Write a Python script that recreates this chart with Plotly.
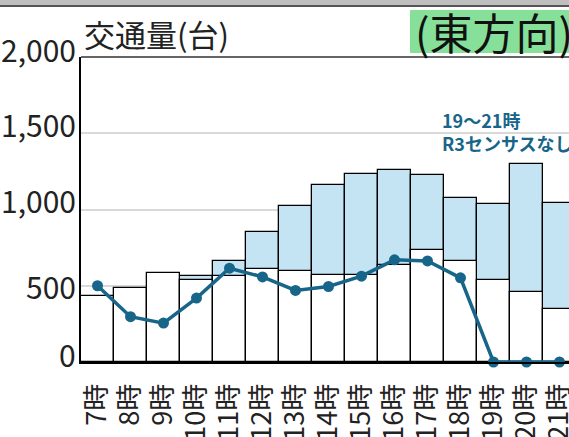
import plotly.graph_objects as go

hours = ["7時", "8時", "9時", "10時", "11時", "12時", "13時", "14時",
         "15時", "16時", "17時", "18時", "19時", "20時", "21時"]
# light-blue bars (drawn behind)
blue_vals = [None, None, None, 565, 661, 851, 1022, 1160, 1235, 1256, 1228, 1075, 1038, 1296, 1044]
# white bars (drawn in front)
white_vals = [432, 487, 585, 541, 567, 612, 600, 572, 572, 635, 733, 664, 539, 458, 346]
# line series
line_vals = [500, 297, 255, 419, 615, 558, 469, 495, 563, 670, 663, 552, 0, 0, 0]

y_ticks = [0, 500, 1000, 1500, 2000]
y_tick_text = ["0", "500", "1,000", "1,500", "2,000"]
y_label_shift = [8, 0, 10, 9, 8]

TEAL = "#17668a"
FONT = "Noto Sans CJK JP"

fig = go.Figure()
fig.add_trace(go.Bar(x=hours, y=blue_vals, marker=dict(color="#c4e4f4", line=dict(color="black", width=1.3)),
                     width=1.0, showlegend=False))
fig.add_trace(go.Bar(x=hours, y=white_vals, marker=dict(color="white", line=dict(color="black", width=1.3)),
                     width=1.0, showlegend=False))
fig.add_trace(go.Scatter(x=hours, y=line_vals, mode="lines+markers",
                         line=dict(color=TEAL, width=3.5), marker=dict(color=TEAL, size=11),
                         cliponaxis=False, showlegend=False))

W, H = 569, 437
L, R, T, B = 81, 0, 57, 75
pw, ph = W - L - R, H - T - B

def px(x):
    return (x - L) / pw

def py(y):
    return (H - B - y) / ph

shapes = [
    # top gray band
    dict(type="rect", xref="paper", yref="paper", x0=px(-5), x1=px(575), y0=py(5.5), y1=py(-5),
         fillcolor="#bfbfbf", line=dict(width=0), layer="above"),
    dict(type="line", xref="paper", yref="paper", x0=px(-5), x1=px(575), y0=py(6), y1=py(6),
         line=dict(color="#555555", width=2), layer="above"),
    # green box
    dict(type="rect", xref="paper", yref="paper", x0=px(410), x1=px(580), y0=py(53), y1=py(10),
         fillcolor="#86e09a", line=dict(width=0), layer="below"),
    # plot top border
    dict(type="line", xref="paper", yref="paper", x0=0, x1=1, y0=1, y1=1,
         line=dict(color="#333333", width=1.5), layer="above"),
]

annotations = [
    dict(text="交通量(台)", xref="paper", yref="paper", x=px(82), y=py(33), xanchor="left", yanchor="middle",
         showarrow=False, font=dict(family=FONT, size=31, color="#222222")),
    dict(text="(東方向)", xref="paper", yref="paper", x=px(413), y=py(31), xanchor="left", yanchor="middle",
         showarrow=False, font=dict(family=FONT, size=43, color="#111111")),
    dict(text="19〜21時<br>R3センサスなし", xref="paper", yref="paper", x=px(440), y=py(105),
         xanchor="left", yanchor="top", align="left", showarrow=False,
         font=dict(family=FONT, size=18, color=TEAL, weight="bold")),
]
for v, t, s in zip(y_ticks, y_tick_text, y_label_shift):
    annotations.append(dict(text=t, xref="paper", yref="y", x=0, y=v, xshift=-3, yshift=s,
                            xanchor="right", yanchor="middle", showarrow=False,
                            font=dict(family=FONT, size=30, color="#222222")))

fig.update_layout(
    width=W, height=H,
    margin=dict(l=L, r=R, t=T, b=B, pad=0),
    paper_bgcolor="white", plot_bgcolor="white",
    barmode="overlay", bargap=0,
    shapes=shapes, annotations=annotations,
    font=dict(family=FONT),
    xaxis=dict(range=[-0.5, -0.5 + pw / 33.0], showline=True, linecolor="black", linewidth=2,
               tickangle=-90, tickfont=dict(family=FONT, size=27, color="#222222"),
               ticks="", ticklabelstandoff=9, showgrid=False, fixedrange=True, automargin=False),
    yaxis=dict(range=[0, 2000], tickvals=y_ticks, showticklabels=False, showline=True,
               linecolor="black", linewidth=1.5, gridcolor="#d9d9d9", gridwidth=2,
               zeroline=False, ticks="", automargin=False),
)

fig.write_html("out.html", config={"displayModeBar": False},
               post_script="document.body.style.margin='0';document.body.style.padding='0';")
